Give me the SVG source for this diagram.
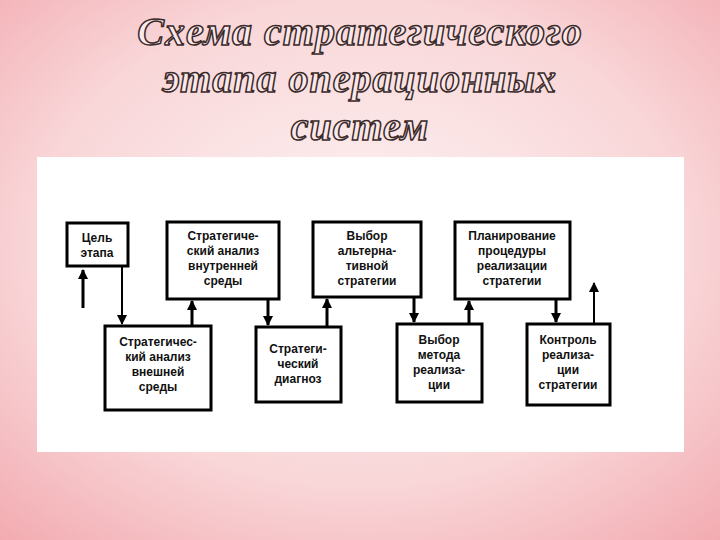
<svg xmlns="http://www.w3.org/2000/svg" width="720" height="540" viewBox="0 0 720 540">
<defs>
<radialGradient id="bg" cx="0.5" cy="0.45" r="0.75">
<stop offset="0" stop-color="#fdf3f3"/><stop offset="0.6" stop-color="#f9d6d8"/><stop offset="1" stop-color="#f2aab0"/>
</radialGradient>
<marker id="ah" viewBox="0 0 10 10" refX="9" refY="5" markerUnits="userSpaceOnUse" markerWidth="11" markerHeight="10" orient="auto"><path d="M0,0 L10,5 L0,10 z" fill="#000"/></marker>
<style>
.t{font-family:"Liberation Serif",serif;font-style:italic;font-weight:bold;font-size:40px;fill:#fbe9ea;stroke:#3a2a2a;stroke-width:1.5;text-anchor:middle;letter-spacing:1px}
.b rect{fill:#fff;stroke:#000;stroke-width:3}
.b text{font-family:"Liberation Sans",sans-serif;font-weight:bold;font-size:12px;text-anchor:middle;fill:#111}
.c line{stroke:#000;stroke-width:3;marker-end:url(#ah)}
</style>
</defs>
<rect width="720" height="540" fill="url(#bg)"/>
<text class="t" x="360" y="45">Схема стратегического</text>
<text class="t" x="360" y="92">этапа операционных</text>
<text class="t" x="360" y="140">систем</text>
<rect x="37" y="157" width="647" height="295" fill="#fff"/>
<g id="n1" class="b"><rect x="67" y="223" width="61" height="43"/><text x="97" y="242">Цель</text><text x="97" y="257">этапа</text></g>
<g id="n2" class="b"><rect x="167" y="222" width="112" height="77"/><text x="223" y="240">Стратегиче-</text><text x="223" y="255">ский анализ</text><text x="223" y="270">внутренней</text><text x="223" y="285">среды</text></g>
<g id="n3" class="b"><rect x="313" y="222" width="108" height="75"/><text x="367" y="240">Выбор</text><text x="367" y="255">альтерна-</text><text x="367" y="270">тивной</text><text x="367" y="285">стратегии</text></g>
<g id="n4" class="b"><rect x="455" y="222" width="115" height="77"/><text x="512" y="240">Планирование</text><text x="512" y="255">процедуры</text><text x="512" y="270">реализации</text><text x="512" y="285">стратегии</text></g>
<g id="n5" class="b"><rect x="105" y="326" width="106" height="84"/><text x="158" y="346">Стратегичес-</text><text x="158" y="361">кий анализ</text><text x="158" y="376">внешней</text><text x="158" y="391">среды</text></g>
<g id="n6" class="b"><rect x="256" y="327" width="85" height="75"/><text x="298" y="353">Стратеги-</text><text x="298" y="368">ческий</text><text x="298" y="383">диагноз</text></g>
<g id="n7" class="b"><rect x="397" y="324" width="85" height="78"/><text x="439" y="344">Выбор</text><text x="439" y="359">метода</text><text x="439" y="374">реализа-</text><text x="439" y="389">ции</text></g>
<g id="n8" class="b"><rect x="527" y="324" width="83" height="81"/><text x="568" y="344">Контроль</text><text x="568" y="359">реализа-</text><text x="568" y="374">ции</text><text x="568" y="389">стратегии</text></g>
<g id="connectors" class="c">
<line x1="83" y1="308" x2="83" y2="270"/>
<line x1="122" y1="266" x2="122" y2="324" style="stroke-width:2"/>
<line x1="192" y1="326" x2="192" y2="301"/>
<line x1="268" y1="299" x2="268" y2="325"/>
<line x1="327" y1="327" x2="327" y2="299"/>
<line x1="414" y1="297" x2="414" y2="322"/>
<line x1="469" y1="324" x2="469" y2="301"/>
<line x1="556" y1="299" x2="556" y2="322"/>
<line x1="594" y1="324" x2="594" y2="283" style="stroke-width:2"/>
</g>
</svg>
